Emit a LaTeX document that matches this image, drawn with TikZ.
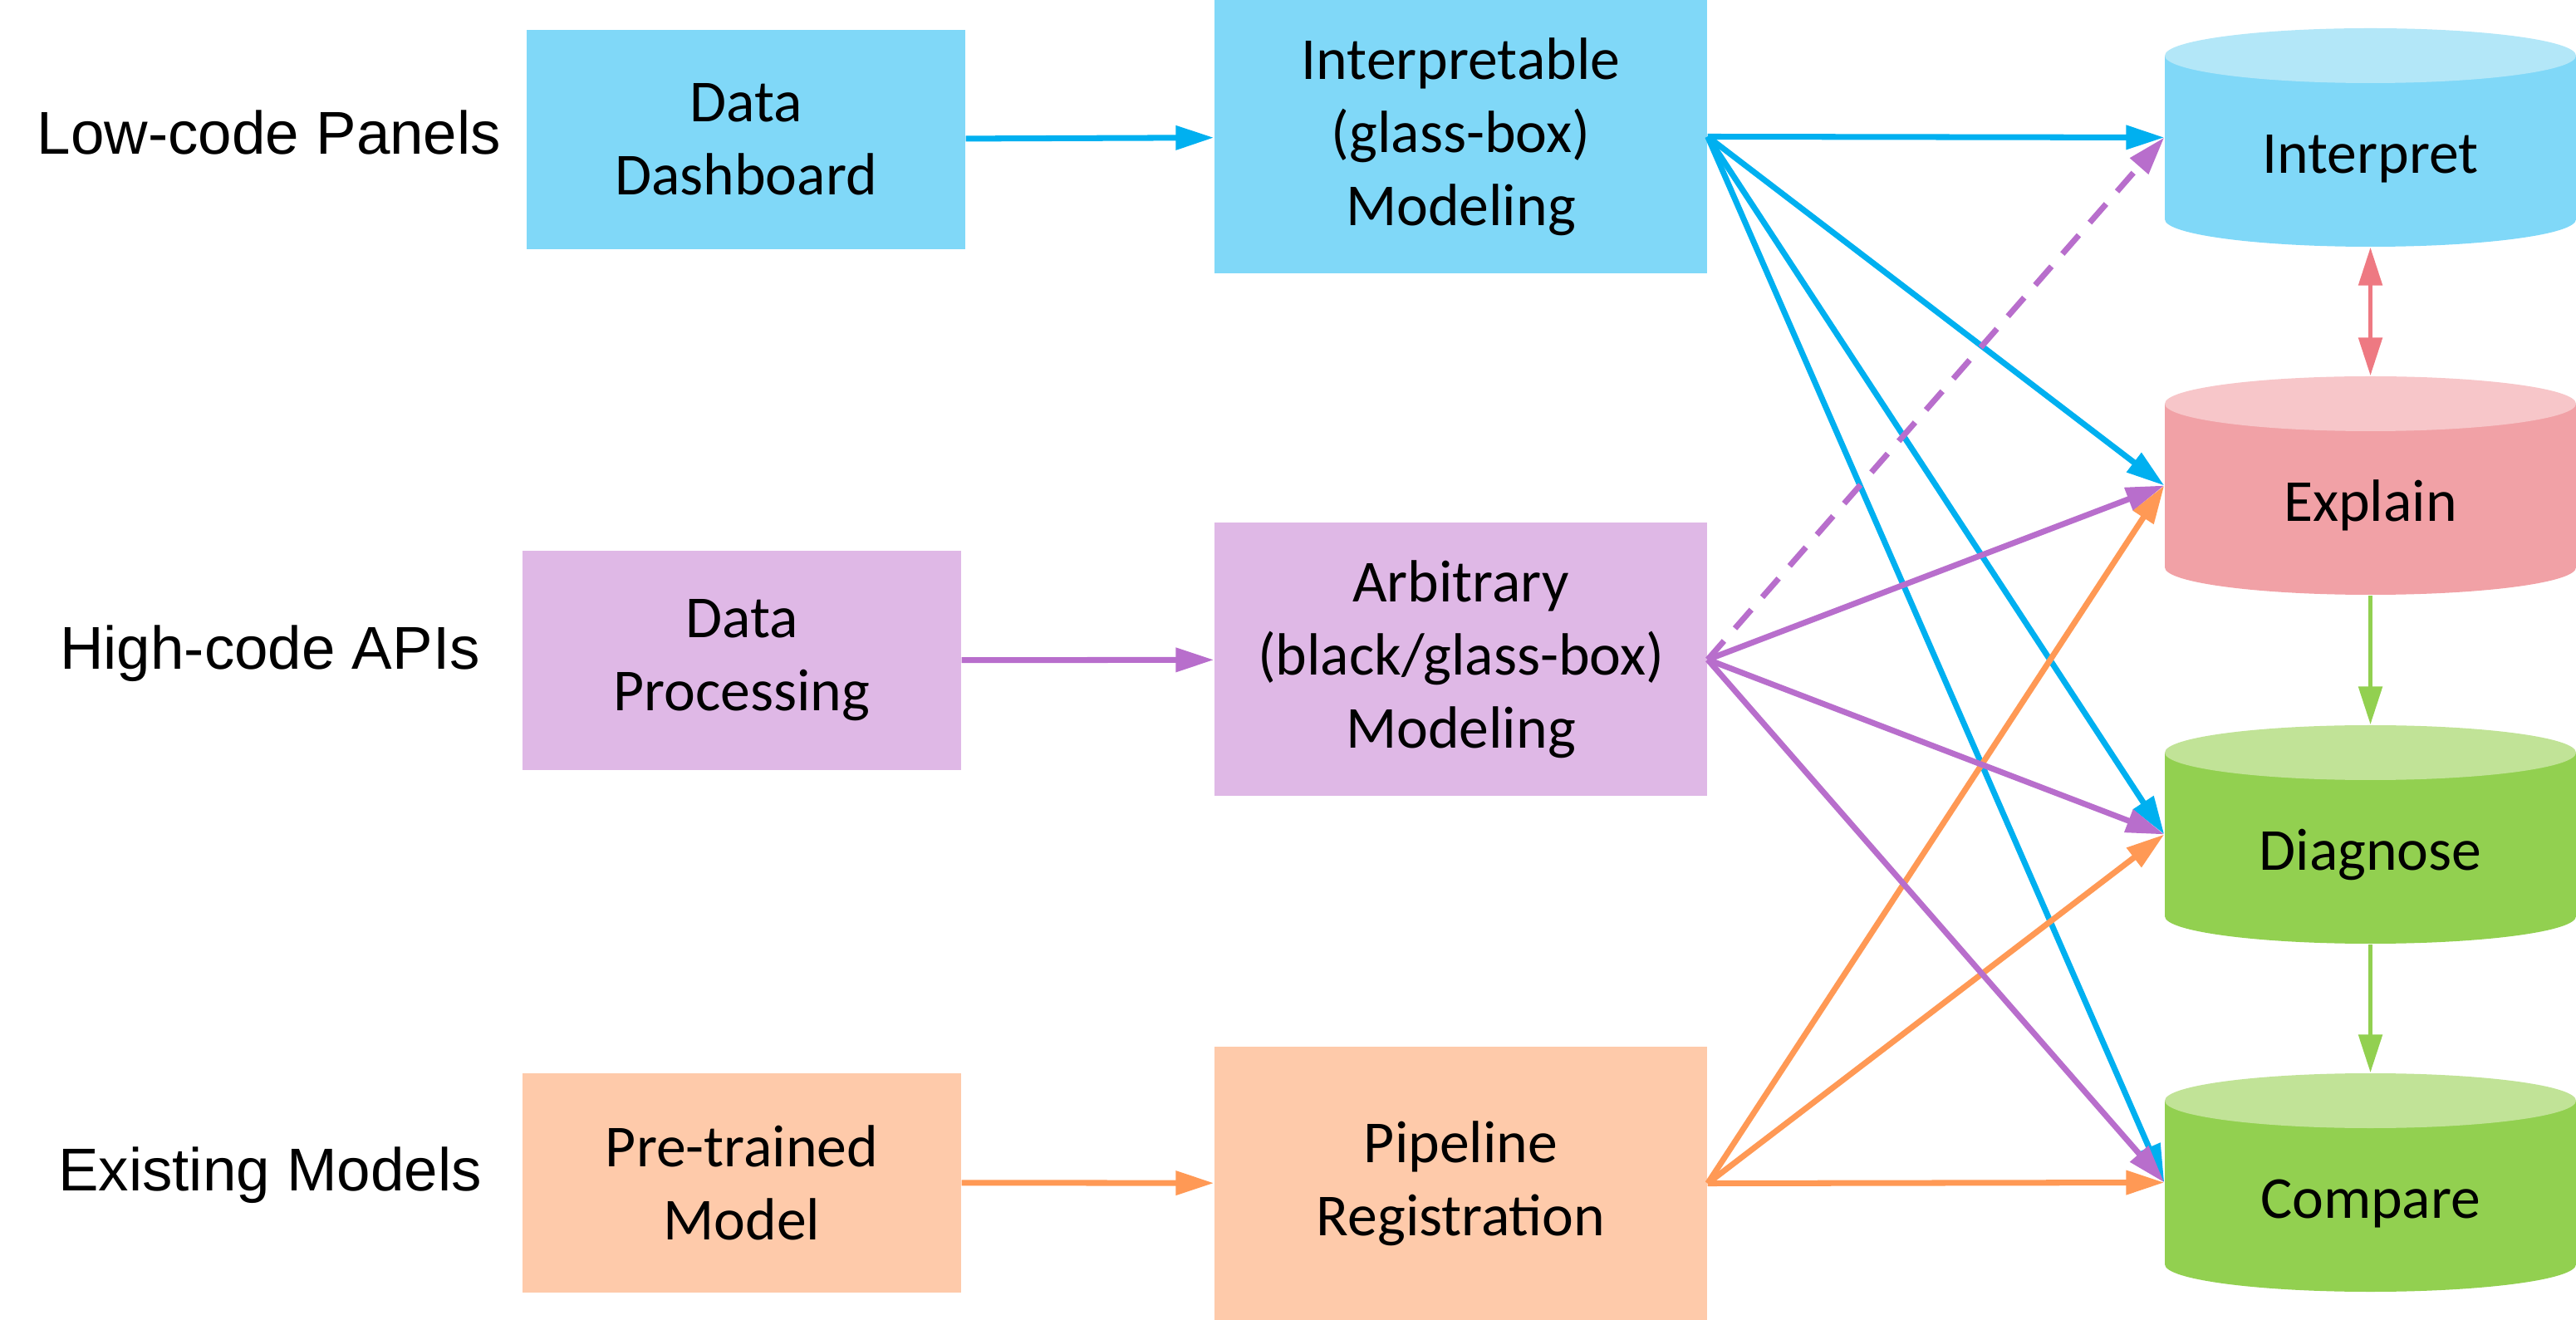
\documentclass[tikz,border=0pt]{standalone}
\usepackage{fontspec}
\setmainfont{Carlito}
\newfontfamily\lblfont{Liberation Sans}
\usetikzlibrary{calc}
\usetikzlibrary{arrows.meta}
\tikzset{>={Triangle[length=4.6mm,width=2.8mm]}}
\usepackage{xcolor}
\definecolor{lineblue}{HTML}{00B0F0}
\definecolor{boxblue}{HTML}{80D8F8}
\definecolor{topblue}{HTML}{B3E7F8}
\definecolor{linepurple}{HTML}{B86ECC}
\definecolor{boxpurple}{HTML}{DFB8E6}
\definecolor{lineorange}{HTML}{FF9955}
\definecolor{boxorange}{HTML}{FECAAA}
\definecolor{linepink}{HTML}{EE7982}
\definecolor{bodypink}{HTML}{F1A1A6}
\definecolor{toppink}{HTML}{F7C6C9}
\definecolor{linegreen}{HTML}{92D050}
\definecolor{topgreen}{HTML}{C1E397}
\tikzstyle{lbl}=[font=\lblfont\fontsize{20.7}{25}\selectfont]
\tikzstyle{box}=[rectangle,inner sep=0,align=center,font=\fontsize{20.4}{25}\selectfont]
\tikzstyle{src}=[box,minimum width=5.28cm,minimum height=2.64cm]
\tikzstyle{model}=[box,minimum width=5.93cm,minimum height=3.29cm]
\tikzstyle{link}=[->,line width=2pt]
\tikzset{cyl/.style 2 args={box,minimum width=4.95cm,minimum height=2.63cm,
 text height=1.2cm,text depth=0.34cm,
 path picture={
 \fill[#1] ($(path picture bounding box.north west)+(0,-0.33)$) rectangle ($(path picture bounding box.south east)+(0,0.33)$);
 \fill[#1] ($(path picture bounding box.south)+(0,0.33)$) ellipse[x radius=2.475cm,y radius=0.33cm];
 \fill[#2] ($(path picture bounding box.north)+(0,-0.33)$) ellipse[x radius=2.475cm,y radius=0.33cm];}}}

\begin{document}
\begin{tikzpicture}
 \useasboundingbox (0,0) rectangle (31.01,-15.89);
 % row labels
 \node[lbl] (lowlbl) at (3.24,-1.60) {Low-code Panels};
 \node[lbl] (highlbl) at (3.25,-7.87) {High-code APIs};
 \node[lbl] (exlbl) at (3.25,-14.15) {Existing Models};
 % first column
 \node[src,fill=boxblue] (dash) at (8.98,-1.68) {Data\\Dashboard};
 \node[src,fill=boxpurple] (proc) at (8.93,-7.95) {Data\\Processing};
 \node[src,fill=boxorange] (pretrained) at (8.93,-14.235) {Pre-trained\\Model};
 % second column
 \node[model,fill=boxblue] (glass) at (17.585,-1.645) {Interpretable\\(glass-box)\\Modeling};
 \node[model,fill=boxpurple] (arb) at (17.585,-7.94) {Arbitrary\\(black/glass-box)\\Modeling};
 \node[model,fill=boxorange] (pipe) at (17.585,-14.245) {Pipeline\\Registration};
 % cylinders
 \node[cyl={boxblue}{topblue}] (interpret) at (28.535,-1.655) {Interpret};
 \node[cyl={bodypink}{toppink}] (explain) at (28.535,-5.845) {Explain};
 \node[cyl={linegreen}{topgreen}] (diagnose) at (28.535,-10.045) {Diagnose};
 \node[cyl={linegreen}{topgreen}] (compare) at (28.535,-14.235) {Compare};
 %
 \draw[link,lineblue] (dash) -- (glass);
 \draw[link,linepurple] (proc) -- (arb);
 \draw[link,lineorange] (pretrained) -- (pipe);
 \foreach \t in {interpret,explain,diagnose,compare}
 \draw[link,lineblue] (glass.east) -- (\t.west);
 \draw[link,linepurple,dash pattern=on 8.5pt off 5.7pt] (arb.east) -- (interpret.west);
 \foreach \t in {explain,diagnose,compare}
 {\draw[link,linepurple] (arb.east) -- (\t.west);
 \draw[link,lineorange] (pipe.east) -- (\t.west);}
 %
 \draw[<->,line width=1.6pt,linepink] (interpret) -- (explain);
 \draw[link,line width=1.6pt,linegreen] (explain) -- (diagnose);
 \draw[link,line width=1.6pt,linegreen] (diagnose) -- (compare);
\end{tikzpicture}
\end{document}
